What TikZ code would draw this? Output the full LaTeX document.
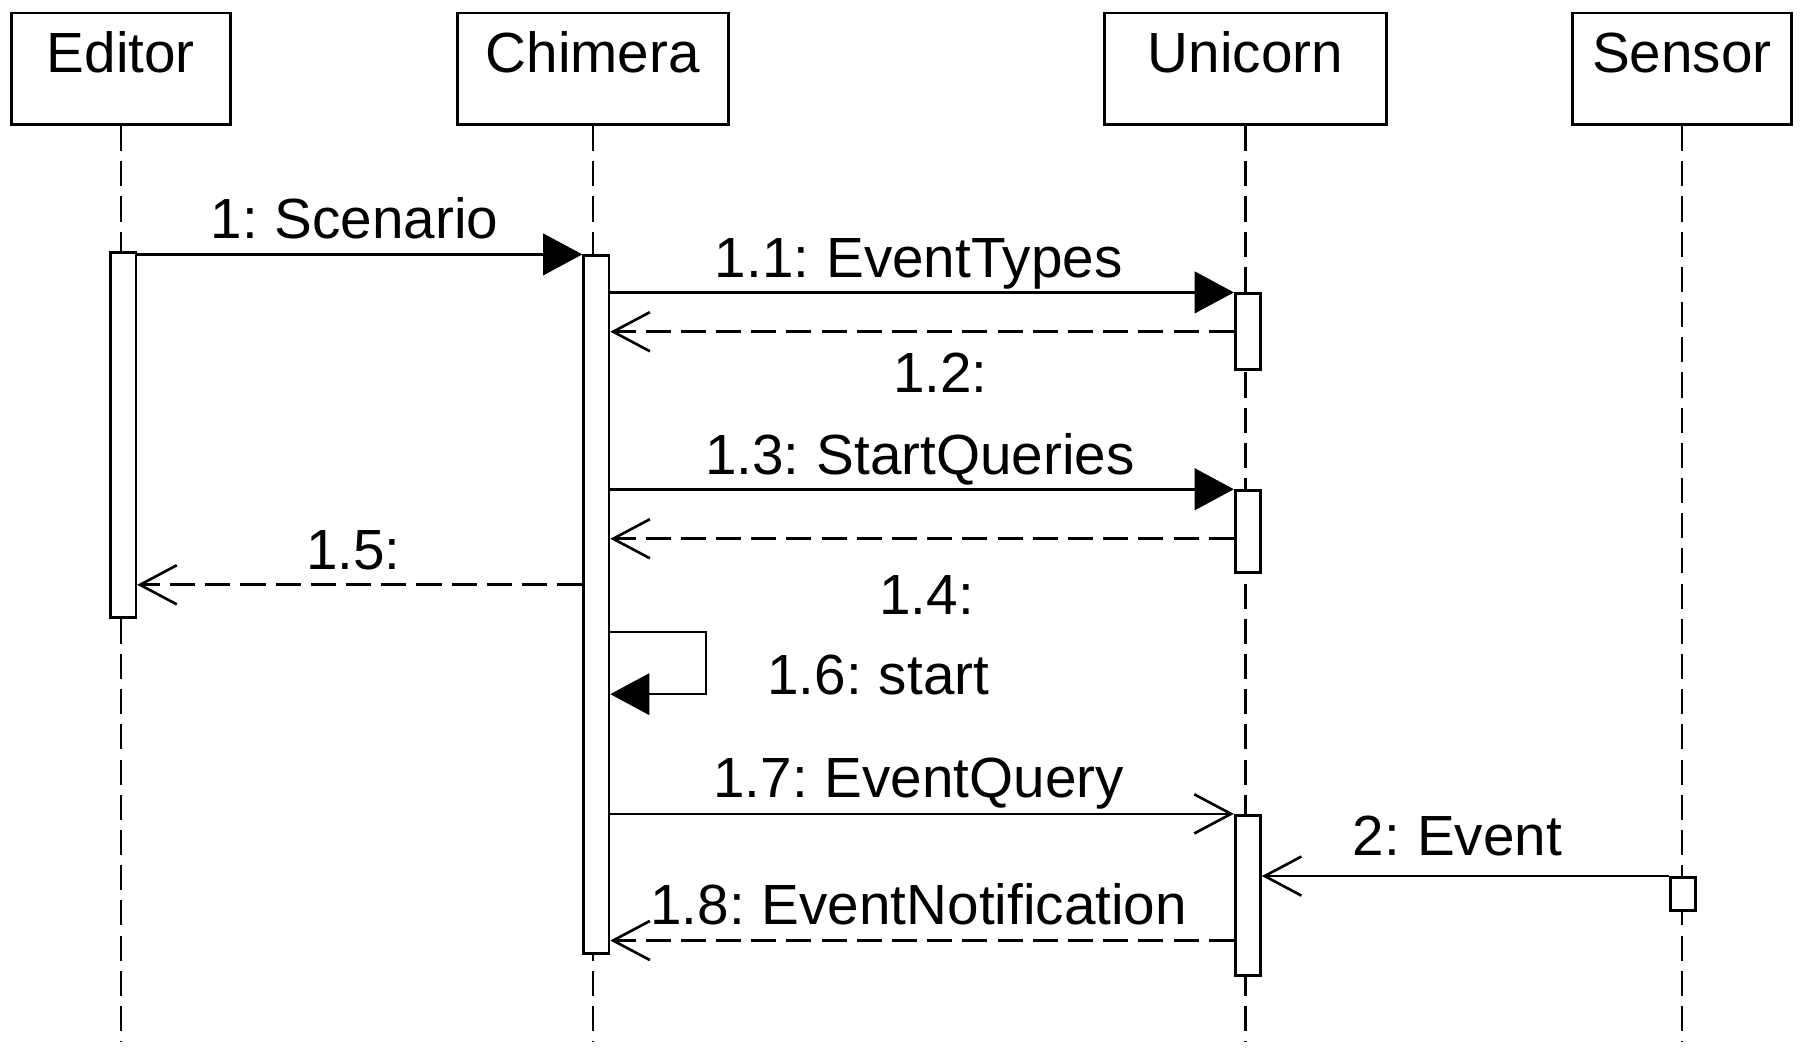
\documentclass[tikz,border=0pt]{standalone}
\usepackage{fontspec}
\setmainfont{Liberation Sans}[WordSpace=0.75]
\usetikzlibrary{positioning, arrows.meta}

\begin{document}
\begin{tikzpicture}[
    font=\fontsize{14}{16}\selectfont,
    line width=0.65pt,
    actor/.style={draw, line width=0.7pt, rectangle, anchor=north, inner xsep=0pt, inner ysep=0.1cm, text height=0.42cm, text depth=0.35cm},
    lifeline/.style={dash pattern=on 6.2pt off 2.5pt},
    activation/.style={draw, line width=0.65pt, fill=white, rectangle, anchor=north, minimum width=0.22cm, inner sep=0pt},
    call/.style={-{Triangle[length=0.34cm, width=0.36cm]}},
    async/.style={-{Straight Barb[length=0.32cm, width=0.34cm]}},
    reply/.style={dash pattern=on 6.2pt off 2.5pt, -{Straight Barb[length=0.32cm, width=0.34cm]}},
    msg/.style={anchor=base, inner sep=0pt}
]
    \useasboundingbox (0,0) rectangle (15.68,-9.17);

    % Objects
    \node[actor, minimum width=1.90cm] (Editor) at (1.05,-0.10) {Editor};
    \node[actor, minimum width=2.35cm] (Chimera) at (5.15,-0.10) {Chimera};
    \node[actor, minimum width=2.45cm] (Unicorn) at (10.82,-0.10) {Unicorn};
    \node[actor, minimum width=1.90cm] (Sensor) at (14.61,-0.10) {Sensor};

    % Lifelines
    \coordinate (EditorEnd) at (1.05,-9.05);
    \coordinate (ChimeraEnd) at (5.15,-9.05);
    \coordinate (UnicornEnd) at (10.82,-9.05);
    \coordinate (SensorEnd) at (14.61,-9.05);
    \draw[lifeline] (Editor.south) -- (EditorEnd);
    \draw[lifeline] (Chimera.south) -- (ChimeraEnd);
    \draw[lifeline] (Unicorn.south) -- (UnicornEnd);
    \draw[lifeline] (Sensor.south) -- (SensorEnd);

    % Activations
    \node[activation, minimum height=3.17cm] (actEditor) at (1.07,-2.18) {};
    \node[activation, minimum height=6.06cm] (actChimera) at (5.18,-2.21) {};
    \node[activation, minimum height=0.66cm] (actUniA) at (10.84,-2.54) {};
    \node[activation, minimum height=0.71cm] (actUniB) at (10.84,-4.25) {};
    \node[activation, minimum height=1.39cm] (actUniC) at (10.84,-7.07) {};
    \node[activation, minimum height=0.29cm] (actSensor) at (14.62,-7.61) {};

    % Message points
    \coordinate (retB) at ([yshift=-0.43cm]actUniB.north west);
    \coordinate (retEditor) at ([yshift=-2.87cm]actChimera.north west);
    \coordinate (selfOut) at ([yshift=-3.28cm]actChimera.north east);
    \coordinate (selfIn) at ([yshift=-3.82cm]actChimera.north east);
    \coordinate (retC) at ([yshift=-1.10cm]actUniC.north west);

    % Messages
    \draw[call] (actEditor.east |- actChimera.north) -- (actChimera.north west);
    \draw[call] (actChimera.east |- actUniA.north) -- (actUniA.north west);
    \draw[reply] (actUniA.west) -- (actChimera.east |- actUniA.west);
    \draw[call] (actChimera.east |- actUniB.north) -- (actUniB.north west);
    \draw[reply] (retB) -- (actChimera.east |- retB);
    \draw[reply] (retEditor) -- (actEditor.east |- retEditor);
    \draw[call] (selfOut) -- ++(0.83,0) |- (selfIn);
    \draw[async] (actChimera.east |- actUniC.north) -- (actUniC.north west);
    \draw[async] (actSensor.north west) -- (actUniC.east |- actSensor.north west);
    \draw[reply] (retC) -- (actChimera.east |- retC);

    % Labels
    \node[msg] (lblScenario) at (3.08,-2.07) {1: Scenario};
    \node[msg] (lblTypes) at (7.98,-2.41) {1.1: EventTypes};
    \node[msg] (lblTypesRet) at (8.17,-3.41) {1.2:};
    \node[msg] (lblStart) at (7.99,-4.12) {1.3: StartQueries};
    \node[msg] (lblStartRet) at (8.05,-5.34) {1.4:};
    \node[msg] (lblEditorRet) at (3.07,-4.95) {1.5:};
    \node[msg] (lblSelf) at (7.63,-6.03) {1.6: start};
    \node[msg] (lblQuery) at (7.98,-6.93) {1.7: EventQuery};
    \node[msg] (lblEvent) at (12.66,-7.43) {2: Event};
    \node[msg] (lblNotify) at (7.98,-8.03) {1.8: EventNotification};
\end{tikzpicture}
\end{document}
